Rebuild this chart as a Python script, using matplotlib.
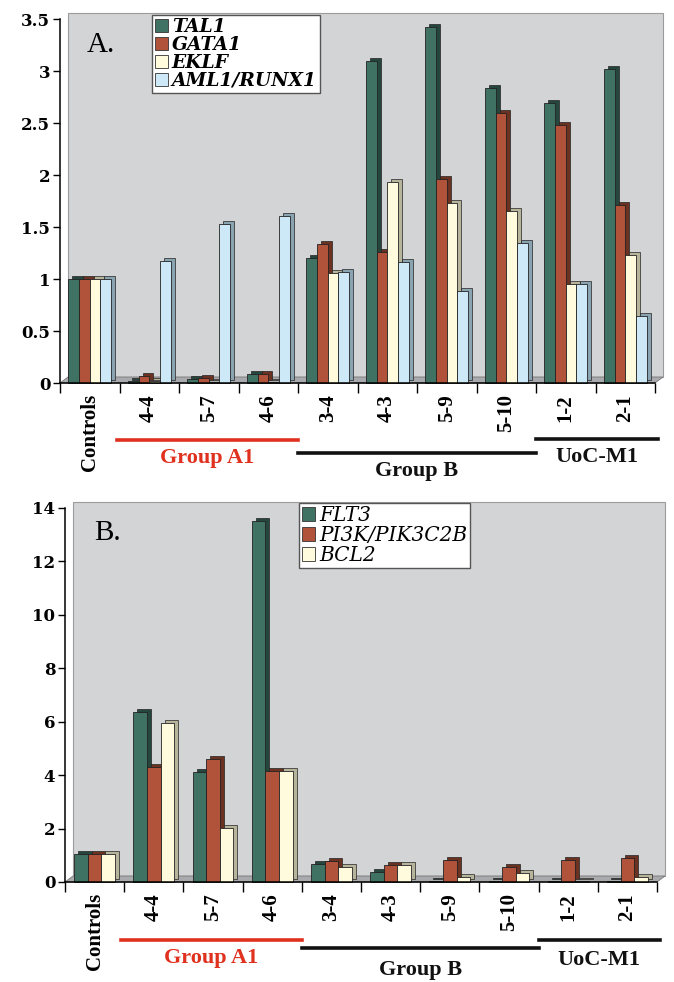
import matplotlib.pyplot as plt
from matplotlib.patches import Patch, Rectangle, Polygon
from matplotlib.transforms import ScaledTranslation, blended_transform_factory
from matplotlib.lines import Line2D

# data -------------------------------------------------------------------
samples = ['Controls', '4-4', '5-7', '4-6', '3-4', '4-3', '5-9', '5-10', '1-2', '2-1']

genes_a = ['TAL1', 'GATA1', 'EKLF', 'AML1/RUNX1']
tal1 = [1.0, 0.02, 0.04, 0.09, 1.2, 3.1, 3.42, 2.84, 2.69, 3.02]
gata1 = [1.0, 0.07, 0.05, 0.09, 1.34, 1.26, 1.96, 2.6, 2.48, 1.71]
eklf = [1.0, 0.02, 0.01, 0.01, 1.06, 1.93, 1.73, 1.65, 0.95, 1.23]
aml1 = [1.0, 1.17, 1.53, 1.61, 1.07, 1.16, 0.88, 1.35, 0.95, 0.64]

genes_b = ['FLT3', 'PI3K/PIK3C2B', 'BCL2']
flt3 = [1.05, 6.35, 4.12, 13.5, 0.68, 0.38, 0.05, 0.05, 0.05, 0.03]
pi3k = [1.05, 4.3, 4.62, 4.15, 0.8, 0.65, 0.82, 0.58, 0.82, 0.88]
bcl2 = [1.05, 5.95, 2.02, 4.15, 0.55, 0.62, 0.18, 0.35, 0.05, 0.18]

groups = [('Group A1', 0.45, 3.5, '#e0301e'), ('Group B', 3.5, 7.5, '#111111'),
          ('UoC-M1', 7.5, 9.55, '#111111')]

front = ['#3f7262', '#b0533a', '#fffbdc', '#cde9f7']
side = ['#25463c', '#6b3222', '#b7b49c', '#8aa3b0']

W, H = 674, 982
fig = plt.figure(figsize=(W / 100, H / 100), dpi=100)
serif = 'Liberation Serif'
wide = 'DejaVu Serif'


def px_axes(l, r, t, b):
    return fig.add_axes([l / W, (H - b) / H, (r - l) / W, (b - t) / H])


def draw_panel(ax, series, ymax, ystep, bw, axh_px, axw_px):
    ax.set_xlim(-0.5, len(samples) - 0.5)
    ax.set_ylim(0, ymax)
    ax.patch.set_visible(False)
    # back wall + floor, fake 3d
    ox, oy = 8 / axw_px, 6 / axh_px
    ax.add_patch(Rectangle((ox, oy), 1, 1, transform=ax.transAxes, facecolor='#d3d4d6',
                           edgecolor='#9c9c9c', lw=0.8, clip_on=False, zorder=0))
    ax.add_patch(Polygon([(0, 0), (1, 0), (1 + ox, oy), (ox, oy)], closed=True,
                         transform=ax.transAxes, facecolor='#a9aaad', edgecolor='#777777',
                         lw=0.6, clip_on=False, zorder=0.5))
    n = len(series)
    shift = ScaledTranslation(0.04, 0.03, fig.dpi_scale_trans)
    z = 2
    for j in range(len(samples)):
        for i, vals in enumerate(series):
            x = j + (i - (n - 1) / 2) * bw
            ax.bar(x, vals[j], bw, color=side[i], edgecolor='#222222', lw=0.5,
                   transform=ax.transData + shift, zorder=z, clip_on=False)
            ax.bar(x, vals[j], bw, color=front[i], edgecolor='#222222', lw=0.6,
                   zorder=z + 0.5, clip_on=False)
            z += 1
    for s in ['top', 'right']:
        ax.spines[s].set_visible(False)
    for s in ['left', 'bottom']:
        ax.spines[s].set_linewidth(1.1)
        ax.spines[s].set_zorder(500)
    ticks = [k * ystep for k in range(int(round(ymax / ystep)) + 1)]
    ax.set_yticks(ticks)
    ax.set_yticklabels(['%g' % t for t in ticks], fontfamily=wide, fontweight='bold',
                       fontsize=12)
    ax.tick_params(axis='y', length=5, width=1, pad=2)
    ax.set_xticks([k - 0.5 for k in range(len(samples) + 1)])
    ax.set_xticklabels([])
    ax.tick_params(axis='x', which='major', length=7, width=1, direction='out')
    ax.set_xticks(range(len(samples)), minor=True)
    ax.set_xticklabels(samples, minor=True, rotation=90, fontfamily=serif,
                       fontweight='bold', fontsize=15, va='top', ha='center')
    ax.tick_params(axis='x', which='minor', length=0, pad=8)
    return [Patch(facecolor=front[i], edgecolor='#333333', lw=0.6) for i in range(n)]


def draw_groups(ax, ys):
    tr = blended_transform_factory(ax.transData, ax.transAxes)
    for (name, x0, x1, col), (yl, yt) in zip(groups, ys):
        ax.add_line(Line2D([x0, x1], [yl, yl], transform=tr, color=col, lw=2.6,
                           clip_on=False))
        ax.text((x0 + x1) / 2, yt, name, transform=tr, color=col, fontfamily=serif,
                fontweight='bold', fontsize=16, ha='center', va='center')


def fy(b, ypx, axh):
    return (b - ypx) / axh


# panel A ---------------------------------------------------------------
ax1 = px_axes(60, 655, 19, 383)
h1 = draw_panel(ax1, [tal1, gata1, eklf, aml1], 3.5, 0.5, 0.18, 364, 595)
leg1 = ax1.legend(h1, genes_a, loc='upper left', bbox_to_anchor=(0.155, 1.011),
                  prop={'family': wide, 'weight': 'bold', 'style': 'italic', 'size': 13.5},
                  frameon=True, fancybox=False, framealpha=1, edgecolor='#555555',
                  borderpad=0.15, labelspacing=0.0, handlelength=0.7, handleheight=0.7,
                  handletextpad=0.2, borderaxespad=0)
leg1.set_zorder(1000)
ax1.text(0.045, 0.929, 'A.', transform=ax1.transAxes, fontfamily=serif, fontsize=21,
         va='center', ha='left', zorder=600)
draw_groups(ax1, [(fy(383, 440, 364), fy(383, 458, 364)),
                  (fy(383, 453, 364), fy(383, 471, 364)),
                  (fy(383, 439, 364), fy(383, 457, 364))])

# panel B ---------------------------------------------------------------
ax2 = px_axes(65, 657, 508, 882)
h2 = draw_panel(ax2, [flt3, pi3k, bcl2], 14, 2, 0.23, 374, 592)
leg2 = ax2.legend(h2, genes_b, loc='upper left', bbox_to_anchor=(0.395, 1.013),
                  prop={'family': wide, 'style': 'italic', 'size': 14.5},
                  frameon=True, fancybox=False, framealpha=1, edgecolor='#555555',
                  borderpad=0.15, labelspacing=0.05, handlelength=0.65, handleheight=0.65,
                  handletextpad=0.2, borderaxespad=0)
leg2.set_zorder(1000)
ax2.text(0.05, 0.933, 'B.', transform=ax2.transAxes, fontfamily=serif, fontsize=21,
         va='center', ha='left', zorder=600)
draw_groups(ax2, [(fy(882, 940, 374), fy(882, 958, 374)),
                  (fy(882, 948, 374), fy(882, 970, 374)),
                  (fy(882, 940, 374), fy(882, 960, 374))])

fig.savefig('out.png', dpi=100)
